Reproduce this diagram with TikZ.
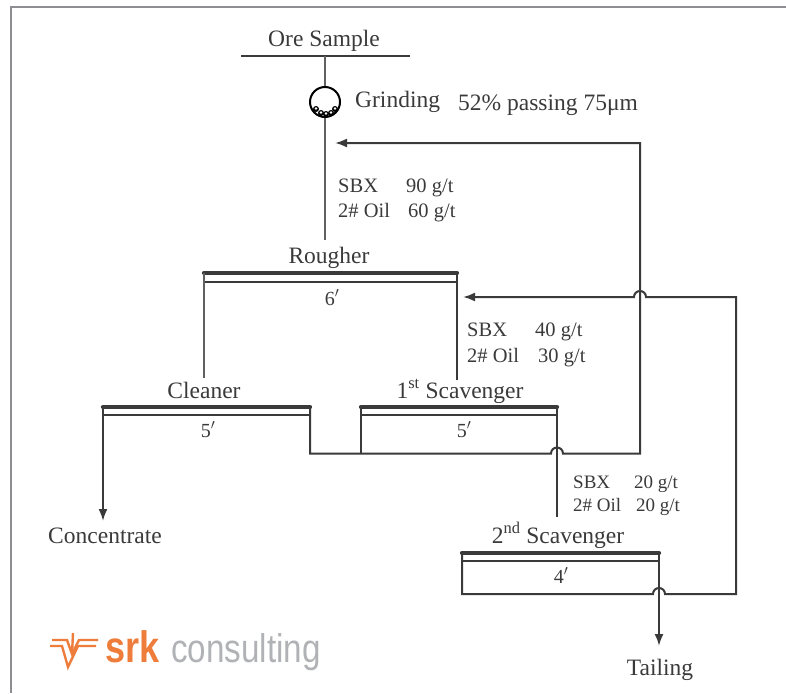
\documentclass[tikz,border=0pt]{standalone}
\usepackage{fontspec}
\setmainfont{Liberation Serif}
\newfontfamily\logofont{Liberation Sans}
\usetikzlibrary{arrows.meta,calc}
\definecolor{linegray}{HTML}{3A3A3A}
\definecolor{framegray}{HTML}{8E8E92}
\definecolor{srkorange}{HTML}{EE7D3B}
\definecolor{srkgray}{HTML}{B0B2B5}
\begin{document}
\begin{tikzpicture}[x=1pt,y=-1pt,every node/.style={font=\fontsize{23.5}{28}\selectfont,text=linegray,inner sep=0pt,anchor=base},
flow/.style={line width=2pt,draw=linegray},
feed/.style={line width=2.6pt,draw=linegray!80},
bar/.style={line width=4.2pt,draw=linegray,line cap=round},
thinbar/.style={line width=1.6pt,draw=linegray},
tofront/.style={flow,-{Latex[length=12pt,width=9pt]}},
time/.style={font=\fontsize{20}{24}\selectfont},
dose/.style={font=\fontsize{20.5}{24}\selectfont,anchor=base west},
dosesm/.style={font=\fontsize{19}{23}\selectfont,anchor=base west}]
\useasboundingbox (0,0) rectangle (786,693);
% frame
\draw[line width=2.6pt,framegray] (11,693)--(11,7)--(786,7);
% feed
\node (ore) at (324,47) {Ore Sample};
\coordinate (oreL) at (241,56);
\coordinate (oreR) at (410,56);
\coordinate (oreM) at (325,56);
\draw[flow,line width=2.6pt] (oreL)--(oreR);
\foreach \bx/\by in {316/109,321/113,326/114,331/113,335/109}
  \fill[black] (\bx,\by) circle (3pt);
\foreach \bx/\by in {316/109,321/113,326/114,331/113,335/109}
  \fill[white] (\bx,\by-0.5) circle (1.3pt);
\node[circle,draw=black,line width=2pt,minimum size=30pt,anchor=center] (mill) at (325,102) {};
\node[anchor=base west] (grind) at (355,107) {Grinding};
\node[anchor=base west] (pass) at (458,110) {52\% passing 75μm};
\draw[feed] (oreM)--(mill);
\coordinate (rfeed) at (325,240);
\draw[feed] (mill.south)--(rfeed);
\node[dose] (d1a) at (338,192) {SBX};
\node[dose] (d1b) at (406,192) {90 g/t};
\node[dose] (d1c) at (338,217) {2\# Oil};
\node[dose] (d1d) at (408,217) {60 g/t};
% rougher
\node (roug) at (329,263) {Rougher};
\coordinate (rL) at (204,273);
\coordinate (rR) at (457,273);
\draw[bar] (rL)--(rR);
\draw[thinbar] (204,282)--(457,282);
\node[time] (t1) at (332,305) {6$^{\prime}$};
\coordinate (clfeed) at (204,378);
\coordinate (s1feed) at (457,380);
\draw[feed] (rL)--(clfeed);
\draw[flow] (rR)--(s1feed);
\node[dose] (d2a) at (467,336) {SBX};
\node[dose] (d2b) at (535,336) {40 g/t};
\node[dose] (d2c) at (467,362) {2\# Oil};
\node[dose] (d2d) at (538,362) {30 g/t};
% cleaner
\node (clean) at (204,398) {Cleaner};
\coordinate (cL) at (103,407);
\coordinate (cR) at (310,407);
\draw[bar] (cL)--(cR);
\draw[thinbar] (103,415)--(310,415);
\node[time] (t2) at (208,437) {5$^{\prime}$};
\node (conc) at (105,543) {Concentrate};
\coordinate (concend) at (103,521);
\draw[tofront] (cL)--(concend);
% 1st scavenger
\node (sc1) at (460,398) {1\textsuperscript{st} Scavenger};
\coordinate (sL) at (361,407);
\coordinate (sR) at (557,407);
\draw[bar] (sL)--(sR);
\draw[thinbar] (361,415)--(557,415);
\node[time] (t3) at (464,437) {5$^{\prime}$};
\coordinate (s2feed) at (557,517);
\draw[flow] (sL)--(361,453.5);
\draw[flow] (sR)--(s2feed);
\node[dosesm] (d3a) at (573,488) {SBX};
\node[dosesm] (d3b) at (634,488) {20 g/t};
\node[dosesm] (d3c) at (573,511) {2\# Oil};
\node[dosesm] (d3d) at (636,511) {20 g/t};
% 2nd scavenger
\node (sc2) at (558,543) {2\textsuperscript{nd} Scavenger};
\coordinate (tL) at (462,553);
\coordinate (tR) at (659,553);
\draw[bar] (tL)--(tR);
\draw[thinbar] (462,561)--(659,561);
\node[time] (t4) at (561,583) {4$^{\prime}$};
\node (tail) at (660,675) {Tailing};
\coordinate (tailend) at (659,646);
\draw[tofront] (tR)--(tailend);
% recycle lines
\coordinate (back1) at (335,143);
\coordinate (back2) at (463,297);
\draw[tofront] (cR)--(310,453.5)--(551,453.5) arc (180:360:6)--(640,453.5)--(640,143)--(back1);
\draw[tofront] (tL)--(462,594)--(653,594) arc (180:360:6)--(736,594)--(736,297)--(646,297) arc (0:-180:6)--(back2);
% logo
\begin{scope}[srkorange,line width=2.4pt]
\draw (52,640)--(67,640)--(72,654)--(79,640)--(98,640);
\draw (50,646)--(62,646)--(68,667)--(78,646)--(96,646);
\draw (73,633)--(72,654);
\end{scope}
\node[font=\logofont\bfseries\fontsize{44}{46}\selectfont,text=srkorange,anchor=base west] (srk) at (105,662) {\scalebox{.82}[1]{srk}};
\node[font=\logofont\fontsize{40}{42}\selectfont,text=srkgray,anchor=base west] (cons) at (171,662) {\scalebox{.83}[1]{consulting}};
\end{tikzpicture}
\end{document}
